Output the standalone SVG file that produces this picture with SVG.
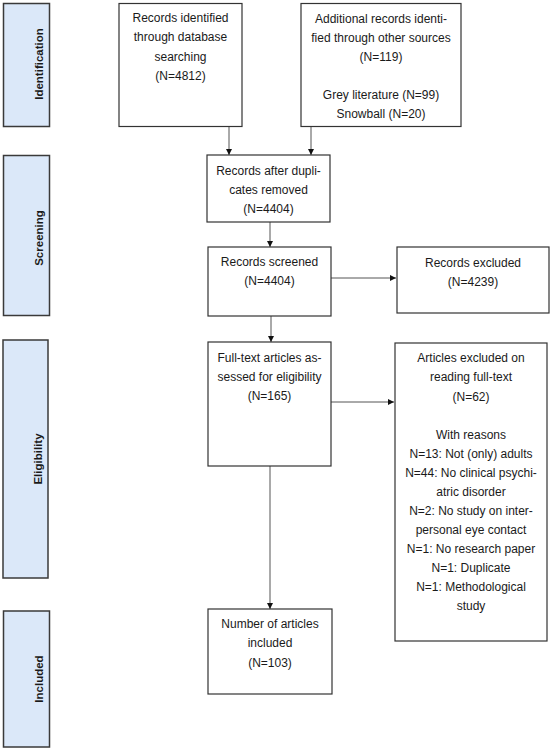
<svg xmlns="http://www.w3.org/2000/svg" width="550" height="750" viewBox="0 0 550 750">
<defs>
<style>
.phase rect{fill:#dbe8f9;stroke:#3a3a3a;stroke-width:1.5}
.phase text{font-family:"Liberation Sans",Arial,sans-serif;font-size:11.5px;font-weight:bold;fill:#1a1a1a;text-anchor:middle}
.node rect{fill:#fff;stroke:#333;stroke-width:1.2}
.node text{font-family:"Liberation Sans",Arial,sans-serif;font-size:12px;fill:#1a1a1a;text-anchor:middle}
.conn line{stroke:#555;stroke-width:1;marker-end:url(#ah)}
</style>
<marker id="ah" viewBox="0 0 10 10" refX="10" refY="5" markerWidth="6" markerHeight="7" markerUnits="userSpaceOnUse" orient="auto">
<path d="M0,0 L10,5 L0,10 Z" fill="#111"/>
</marker>
</defs>
<rect width="550" height="750" fill="#fff"/>

<g id="phase-identification" class="phase">
<rect x="3.5" y="3.5" width="46" height="123"/>
<text transform="translate(42.5,64) rotate(-90)">Identification</text>
</g>
<g id="phase-screening" class="phase">
<rect x="3.5" y="155.5" width="46" height="160"/>
<text transform="translate(42.5,238) rotate(-90)">Screening</text>
</g>
<g id="phase-eligibility" class="phase">
<rect x="3" y="340" width="45" height="238"/>
<text transform="translate(42,459) rotate(-90)">Eligibility</text>
</g>
<g id="phase-included" class="phase">
<rect x="3.5" y="611" width="46" height="136"/>
<text transform="translate(42.5,679) rotate(-90)">Included</text>
</g>

<g id="connectors" class="conn">
<line x1="229" y1="127" x2="229" y2="155"/>
<line x1="311" y1="127" x2="311" y2="155"/>
<line x1="270" y1="222" x2="270" y2="247"/>
<line x1="331" y1="278" x2="396" y2="278"/>
<line x1="271" y1="316" x2="271" y2="342"/>
<line x1="331" y1="402" x2="394" y2="402"/>
<line x1="270" y1="466" x2="270" y2="609"/>
</g>

<g id="n-database" class="node">
<rect x="119" y="3.5" width="123" height="123"/>
<text x="180.5" y="21.5">Records identified</text>
<text x="180.5" y="41">through database</text>
<text x="180.5" y="60.5">searching</text>
<text x="180.5" y="80">(N=4812)</text>
</g>
<g id="n-other" class="node">
<rect x="301" y="3.5" width="160" height="123"/>
<text x="381" y="22.5">Additional records identi-</text>
<text x="381" y="41.5">fied through other sources</text>
<text x="381" y="61">(N=119)</text>
<text x="381" y="98.5">Grey literature (N=99)</text>
<text x="381" y="117.5">Snowball (N=20)</text>
</g>
<g id="n-dedup" class="node">
<rect x="207" y="155" width="123" height="67"/>
<text x="268.5" y="174.5">Records after dupli-</text>
<text x="268.5" y="193.5">cates removed</text>
<text x="268.5" y="213">(N=4404)</text>
</g>
<g id="n-screened" class="node">
<rect x="208" y="247" width="123" height="69"/>
<text x="269.5" y="265.5">Records screened</text>
<text x="269.5" y="284.5">(N=4404)</text>
</g>
<g id="n-excluded" class="node">
<rect x="397" y="247" width="152" height="66"/>
<text x="473" y="266.5">Records excluded</text>
<text x="473" y="286">(N=4239)</text>
</g>
<g id="n-fulltext" class="node">
<rect x="208" y="342" width="123" height="124"/>
<text x="269.5" y="361.5">Full-text articles as-</text>
<text x="269.5" y="380.5">sessed for eligibility</text>
<text x="269.5" y="399.5">(N=165)</text>
</g>
<g id="n-articles-excluded" class="node">
<rect x="395" y="343" width="152" height="298"/>
<text x="471" y="361.5">Articles excluded on</text>
<text x="471" y="381">reading full-text</text>
<text x="471" y="400.5">(N=62)</text>
<text x="471" y="438.5">With reasons</text>
<text x="471" y="457.5">N=13: Not (only) adults</text>
<text x="471" y="477">N=44: No clinical psychi-</text>
<text x="471" y="496">atric disorder</text>
<text x="471" y="515">N=2: No study on inter-</text>
<text x="471" y="534">personal eye contact</text>
<text x="471" y="553">N=1: No research paper</text>
<text x="471" y="572">N=1: Duplicate</text>
<text x="471" y="591">N=1: Methodological</text>
<text x="471" y="610">study</text>
</g>
<g id="n-included" class="node">
<rect x="208" y="609" width="124" height="85"/>
<text x="270" y="627.5">Number of articles</text>
<text x="270" y="647">included</text>
<text x="270" y="666.5">(N=103)</text>
</g>
</svg>
